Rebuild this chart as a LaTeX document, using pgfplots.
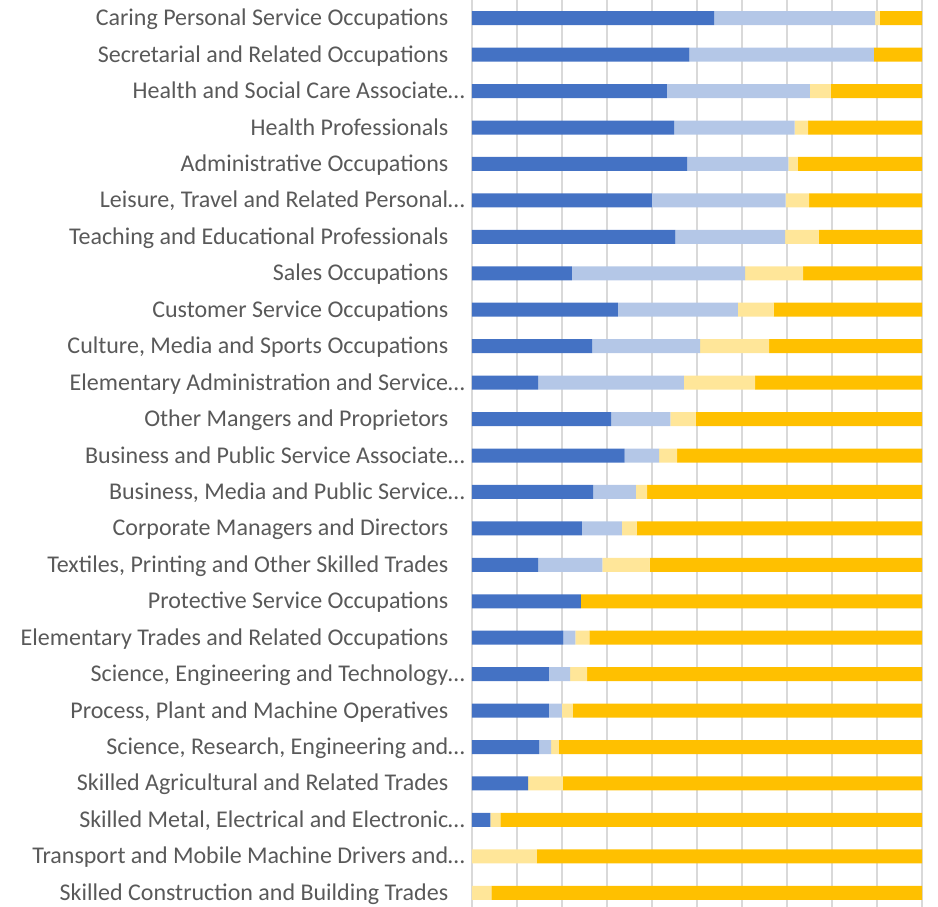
\documentclass[border=0pt]{standalone}
\usepackage{pgfplots}
\pgfplotsset{compat=1.18}
\usepackage{pgfplotstable}
\usepackage{fontspec}
\setmainfont{Carlito}
\definecolor{cA}{HTML}{4472C4}
\definecolor{cB}{HTML}{B4C7E7}
\definecolor{cC}{HTML}{FFE699}
\definecolor{cD}{HTML}{FFC000}
\definecolor{lab}{HTML}{595959}
\definecolor{grd}{HTML}{D9D9D9}
\newcommand{\s}{\hspace*{16.5pt}}
\pgfplotstableread{
idx a b c d
0 53.8 35.8 1.0 9.4
1 48.3 41.0 0.0 10.7
2 43.3 31.8 4.6 20.3
3 44.9 26.8 3.0 25.3
4 47.8 22.5 2.1 27.6
5 40.0 29.7 5.2 25.1
6 45.2 24.4 7.4 23.0
7 22.2 38.5 12.9 26.4
8 32.4 26.7 7.9 33.0
9 26.7 24.0 15.3 34.0
10 14.7 32.4 15.8 37.1
11 30.9 13.2 5.6 50.3
12 33.9 7.7 4.0 54.4
13 26.9 9.5 2.5 61.1
14 24.4 8.9 3.3 63.4
15 14.7 14.3 10.5 60.5
16 24.2 0.0 0.0 75.8
17 20.3 2.7 3.1 73.9
18 17.1 4.7 3.8 74.4
19 17.1 2.9 2.4 77.6
20 14.9 2.7 1.7 80.7
21 12.5 0.0 7.7 79.8
22 4.1 0.0 2.2 93.7
23 0.0 0.0 14.4 85.6
24 0.0 0.0 4.3 95.7
}\data
\begin{document}
\begin{tikzpicture}
\path[use as bounding box] (0,0) rectangle (938pt,907pt);
\begin{axis}[
  at={(472pt,-4pt)}, anchor=south west,
  scale only axis, width=450pt, height=911pt,
  xbar stacked, bar width=14pt,
  xmin=0, xmax=100, ymin=-0.5, ymax=24.5, y dir=reverse,
  axis line style={draw=none},
  xmajorgrids, xtick={0,10,...,100}, xticklabels={},
  grid style={color=grd, line width=1.5pt},
  major tick length=0pt,
  ytick={0,...,24},
  yticklabels={
    {Caring Personal Service Occupations\s},
    {Secretarial and Related Occupations\s},
    {Health and Social Care Associate…},
    {Health Professionals\s},
    {Administrative Occupations\s},
    {Leisure, Travel and Related Personal…},
    {Teaching and Educational Professionals\s},
    {Sales Occupations\s},
    {Customer Service Occupations\s},
    {Culture, Media and Sports Occupations\s},
    {Elementary Administration and Service…},
    {Other Mangers and Proprietors\s},
    {Business and Public Service Associate…},
    {Business, Media and Public Service…},
    {Corporate Managers and Directors\s},
    {Textiles, Printing and Other Skilled Trades\s},
    {Protective Service Occupations\s},
    {Elementary Trades and Related Occupations\s},
    {Science, Engineering and Technology…},
    {Process, Plant and Machine Operatives\s},
    {Science, Research, Engineering and…},
    {Skilled Agricultural and Related Trades\s},
    {Skilled Metal, Electrical and Electronic…},
    {Transport and Mobile Machine Drivers and…},
    {Skilled Construction and Building Trades\s}
  },
  yticklabel style={font=\fontsize{24}{28}\selectfont, text=lab, anchor=base east, inner sep=0pt, xshift=-7pt, yshift=-7.5pt},
  every axis plot/.append style={draw=none},
]
\addplot[fill=cA] table[x=a, y=idx] {\data};
\addplot[fill=cB] table[x=b, y=idx] {\data};
\addplot[fill=cC] table[x=c, y=idx] {\data};
\addplot[fill=cD] table[x=d, y=idx] {\data};
\end{axis}
\end{tikzpicture}
\end{document}
